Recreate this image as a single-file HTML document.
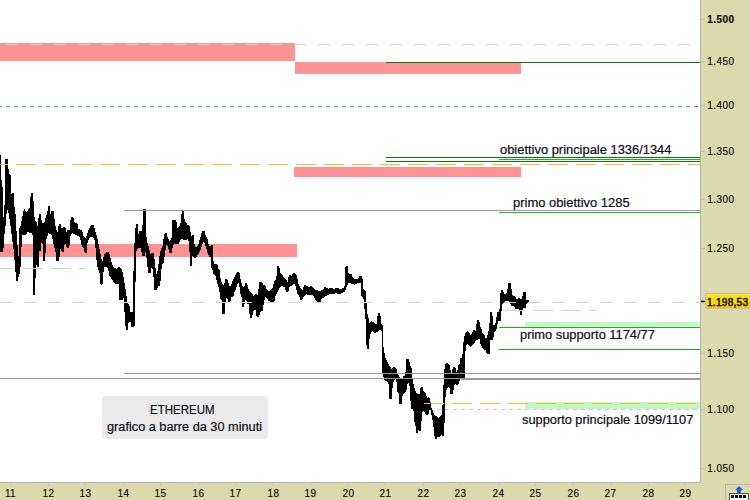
<!DOCTYPE html>
<html><head><meta charset="utf-8"><title>ETHEREUM</title><style>
html,body{margin:0;padding:0;background:#fff;}
body{width:750px;height:500px;position:relative;overflow:hidden;font-family:"Liberation Sans",sans-serif;}
.t{position:absolute;white-space:nowrap;color:#0c0c16;line-height:1;transform-origin:0 0;-webkit-text-stroke:0.2px #0c0c16;}
.ax{position:absolute;white-space:nowrap;color:#0a0a0a;font-size:10px;line-height:1;letter-spacing:0.35px;-webkit-text-stroke:0.15px #0a0a0a;}
</style></head>
<body>
<svg width="750" height="500" viewBox="0 0 750 500" shape-rendering="crispEdges" style="position:absolute;left:0;top:0"><rect width="750" height="500" fill="#fff"/><rect x="0" y="43" width="295" height="18" fill="#FF9292"/><rect x="295" y="62" width="226" height="12" fill="#FF9292"/><rect x="294" y="167" width="227" height="10" fill="#FF9292"/><rect x="0" y="244" width="297" height="13" fill="#FF9292"/><rect x="525" y="322" width="175" height="5" fill="#C3F7C3"/><rect x="525" y="402" width="175" height="7" fill="#C3F7C3"/><path d="M0 155h1v97h-1zM1 180h1v72h-1zM2 187h1v65h-1zM3 217h1v31h-1zM4 205h1v29h-1zM5 159h1v67h-1zM6 159h1v55h-1zM7 159h1v51h-1zM8 169h1v44h-1zM9 174h1v45h-1zM10 175h1v51h-1zM11 194h1v40h-1zM12 193h1v49h-1zM13 193h1v56h-1zM14 207h1v53h-1zM15 214h1v58h-1zM16 231h1v50h-1zM17 245h1v36h-1zM18 256h1v21h-1zM19 228h1v46h-1zM20 226h1v41h-1zM21 221h1v26h-1zM22 216h1v19h-1zM23 211h1v24h-1zM24 209h1v26h-1zM25 211h1v24h-1zM26 212h1v22h-1zM27 211h1v21h-1zM28 209h1v23h-1zM29 208h1v25h-1zM30 197h1v36h-1zM31 193h1v40h-1zM32 193h1v42h-1zM33 201h1v94h-1zM34 217h1v78h-1zM35 221h1v57h-1zM36 222h1v43h-1zM37 226h1v41h-1zM38 218h1v49h-1zM39 214h1v37h-1zM40 214h1v37h-1zM41 220h1v23h-1zM42 223h1v21h-1zM43 223h1v38h-1zM44 222h1v39h-1zM45 218h1v35h-1zM46 215h1v24h-1zM47 211h1v25h-1zM48 206h1v27h-1zM49 206h1v28h-1zM50 214h1v20h-1zM51 211h1v24h-1zM52 211h1v28h-1zM53 211h1v33h-1zM54 219h1v29h-1zM55 226h1v26h-1zM56 230h1v31h-1zM57 232h1v29h-1zM58 226h1v35h-1zM59 224h1v33h-1zM60 224h1v25h-1zM61 228h1v23h-1zM62 228h1v24h-1zM63 227h1v25h-1zM64 227h1v18h-1zM65 228h1v16h-1zM66 232h1v15h-1zM67 230h1v18h-1zM68 230h1v18h-1zM69 230h1v15h-1zM70 220h1v16h-1zM71 217h1v17h-1zM72 217h1v16h-1zM73 218h1v16h-1zM74 222h1v12h-1zM75 223h1v12h-1zM76 223h1v12h-1zM77 224h1v12h-1zM78 229h1v7h-1zM79 229h1v8h-1zM80 230h1v10h-1zM81 230h1v15h-1zM82 232h1v15h-1zM83 236h1v12h-1zM84 237h1v15h-1zM85 238h1v15h-1zM86 236h1v17h-1zM87 233h1v10h-1zM88 230h1v10h-1zM89 228h1v10h-1zM90 226h1v11h-1zM91 225h1v12h-1zM92 225h1v12h-1zM93 225h1v13h-1zM94 228h1v12h-1zM95 232h1v16h-1zM96 235h1v25h-1zM97 239h1v28h-1zM98 244h1v26h-1zM99 249h1v24h-1zM100 254h1v30h-1zM101 259h1v26h-1zM102 261h1v23h-1zM103 257h1v15h-1zM104 254h1v13h-1zM105 253h1v14h-1zM106 252h1v15h-1zM107 252h1v16h-1zM108 252h1v19h-1zM109 254h1v22h-1zM110 258h1v19h-1zM111 262h1v17h-1zM112 265h1v15h-1zM113 267h1v15h-1zM114 268h1v15h-1zM115 268h1v16h-1zM116 269h1v15h-1zM117 268h1v16h-1zM118 267h1v17h-1zM119 267h1v33h-1zM120 268h1v32h-1zM121 269h1v31h-1zM122 272h1v28h-1zM123 277h1v21h-1zM124 283h1v29h-1zM125 289h1v37h-1zM126 296h1v34h-1zM127 302h1v28h-1zM128 304h1v19h-1zM129 306h1v16h-1zM130 312h1v10h-1zM131 312h1v15h-1zM132 312h1v15h-1zM133 271h1v56h-1zM134 243h1v83h-1zM135 228h1v54h-1zM136 224h1v27h-1zM137 224h1v25h-1zM138 234h1v14h-1zM139 231h1v17h-1zM140 231h1v17h-1zM141 231h1v21h-1zM142 225h1v31h-1zM143 209h1v47h-1zM144 209h1v47h-1zM145 209h1v43h-1zM146 237h1v21h-1zM147 243h1v24h-1zM148 246h1v27h-1zM149 250h1v23h-1zM150 254h1v19h-1zM151 253h1v15h-1zM152 253h1v16h-1zM153 253h1v24h-1zM154 259h1v31h-1zM155 268h1v22h-1zM156 274h1v16h-1zM157 271h1v17h-1zM158 264h1v22h-1zM159 256h1v30h-1zM160 251h1v30h-1zM161 248h1v21h-1zM162 246h1v18h-1zM163 239h1v24h-1zM164 234h1v23h-1zM165 233h1v17h-1zM166 233h1v12h-1zM167 237h1v9h-1zM168 239h1v10h-1zM169 241h1v12h-1zM170 240h1v13h-1zM171 238h1v15h-1zM172 220h1v28h-1zM173 220h1v25h-1zM174 220h1v24h-1zM175 220h1v24h-1zM176 222h1v22h-1zM177 228h1v16h-1zM178 227h1v17h-1zM179 226h1v16h-1zM180 223h1v17h-1zM181 214h1v25h-1zM182 211h1v28h-1zM183 211h1v29h-1zM184 219h1v21h-1zM185 222h1v18h-1zM186 223h1v17h-1zM187 225h1v14h-1zM188 225h1v16h-1zM189 226h1v26h-1zM190 232h1v34h-1zM191 236h1v30h-1zM192 235h1v21h-1zM193 235h1v22h-1zM194 244h1v14h-1zM195 247h1v11h-1zM196 247h1v10h-1zM197 246h1v9h-1zM198 244h1v10h-1zM199 240h1v12h-1zM200 237h1v13h-1zM201 233h1v14h-1zM202 231h1v13h-1zM203 231h1v11h-1zM204 231h1v12h-1zM205 235h1v11h-1zM206 237h1v12h-1zM207 239h1v14h-1zM208 244h1v11h-1zM209 246h1v11h-1zM210 246h1v11h-1zM211 245h1v23h-1zM212 245h1v25h-1zM213 261h1v13h-1zM214 264h1v11h-1zM215 264h1v12h-1zM216 264h1v16h-1zM217 265h1v19h-1zM218 269h1v18h-1zM219 270h1v22h-1zM220 278h1v21h-1zM221 282h1v18h-1zM222 284h1v30h-1zM223 285h1v29h-1zM224 283h1v31h-1zM225 279h1v23h-1zM226 279h1v19h-1zM227 280h1v19h-1zM228 283h1v19h-1zM229 286h1v16h-1zM230 286h1v15h-1zM231 284h1v13h-1zM232 281h1v16h-1zM233 279h1v17h-1zM234 277h1v15h-1zM235 275h1v15h-1zM236 273h1v14h-1zM237 272h1v12h-1zM238 272h1v11h-1zM239 273h1v14h-1zM240 279h1v15h-1zM241 283h1v14h-1zM242 286h1v21h-1zM243 287h1v20h-1zM244 286h1v18h-1zM245 283h1v17h-1zM246 283h1v18h-1zM247 285h1v19h-1zM248 289h1v15h-1zM249 291h1v23h-1zM250 292h1v26h-1zM251 293h1v25h-1zM252 294h1v21h-1zM253 296h1v15h-1zM254 295h1v15h-1zM255 294h1v16h-1zM256 294h1v22h-1zM257 295h1v22h-1zM258 289h1v28h-1zM259 282h1v33h-1zM260 282h1v30h-1zM261 282h1v29h-1zM262 283h1v28h-1zM263 285h1v20h-1zM264 285h1v15h-1zM265 286h1v11h-1zM266 289h1v9h-1zM267 290h1v9h-1zM268 291h1v10h-1zM269 291h1v10h-1zM270 290h1v12h-1zM271 289h1v13h-1zM272 288h1v14h-1zM273 284h1v19h-1zM274 281h1v20h-1zM275 280h1v16h-1zM276 276h1v18h-1zM277 266h1v26h-1zM278 266h1v24h-1zM279 268h1v20h-1zM280 273h1v14h-1zM281 274h1v12h-1zM282 275h1v11h-1zM283 277h1v10h-1zM284 278h1v9h-1zM285 279h1v11h-1zM286 280h1v12h-1zM287 282h1v10h-1zM288 277h1v14h-1zM289 275h1v12h-1zM290 275h1v11h-1zM291 276h1v10h-1zM292 274h1v11h-1zM293 273h1v11h-1zM294 273h1v11h-1zM295 274h1v12h-1zM296 275h1v15h-1zM297 279h1v15h-1zM298 284h1v11h-1zM299 286h1v11h-1zM300 288h1v12h-1zM301 289h1v11h-1zM302 290h1v9h-1zM303 287h1v10h-1zM304 285h1v11h-1zM305 285h1v10h-1zM306 286h1v8h-1zM307 286h1v9h-1zM308 287h1v8h-1zM309 287h1v8h-1zM310 286h1v9h-1zM311 286h1v9h-1zM312 287h1v8h-1zM313 288h1v8h-1zM314 289h1v9h-1zM315 290h1v10h-1zM316 290h1v11h-1zM317 290h1v13h-1zM318 291h1v12h-1zM319 291h1v12h-1zM320 291h1v11h-1zM321 290h1v9h-1zM322 290h1v8h-1zM323 289h1v9h-1zM324 287h1v10h-1zM325 287h1v9h-1zM326 288h1v8h-1zM327 288h1v7h-1zM328 289h1v6h-1zM329 288h1v6h-1zM330 288h1v6h-1zM331 288h1v6h-1zM332 288h1v6h-1zM333 289h1v5h-1zM334 289h1v5h-1zM335 288h1v5h-1zM336 288h1v5h-1zM337 288h1v6h-1zM338 288h1v6h-1zM339 289h1v5h-1zM340 289h1v5h-1zM341 289h1v4h-1zM342 288h1v5h-1zM343 288h1v4h-1zM344 286h1v6h-1zM345 267h1v23h-1zM346 266h1v21h-1zM347 266h1v19h-1zM348 273h1v10h-1zM349 274h1v9h-1zM350 274h1v9h-1zM351 274h1v10h-1zM352 277h1v7h-1zM353 278h1v6h-1zM354 279h1v6h-1zM355 279h1v5h-1zM356 279h1v5h-1zM357 279h1v4h-1zM358 278h1v5h-1zM359 276h1v7h-1zM360 276h1v7h-1zM361 276h1v20h-1zM362 279h1v18h-1zM363 289h1v10h-1zM364 290h1v19h-1zM365 291h1v28h-1zM366 303h1v42h-1zM367 314h1v35h-1zM368 318h1v31h-1zM369 323h1v16h-1zM370 322h1v12h-1zM371 321h1v11h-1zM372 322h1v9h-1zM373 322h1v10h-1zM374 323h1v10h-1zM375 324h1v9h-1zM376 324h1v8h-1zM377 316h1v16h-1zM378 313h1v18h-1zM379 313h1v17h-1zM380 316h1v14h-1zM381 324h1v7h-1zM382 325h1v49h-1zM383 347h1v30h-1zM384 353h1v27h-1zM385 358h1v23h-1zM386 360h1v21h-1zM387 362h1v20h-1zM388 364h1v20h-1zM389 366h1v33h-1zM390 367h1v32h-1zM391 369h1v30h-1zM392 368h1v20h-1zM393 367h1v15h-1zM394 367h1v13h-1zM395 368h1v11h-1zM396 369h1v13h-1zM397 373h1v19h-1zM398 375h1v18h-1zM399 377h1v27h-1zM400 378h1v26h-1zM401 379h1v25h-1zM402 378h1v18h-1zM403 376h1v18h-1zM404 376h1v17h-1zM405 372h1v20h-1zM406 359h1v31h-1zM407 359h1v25h-1zM408 359h1v24h-1zM409 362h1v24h-1zM410 366h1v35h-1zM411 368h1v41h-1zM412 379h1v30h-1zM413 384h1v27h-1zM414 388h1v34h-1zM415 391h1v35h-1zM416 393h1v40h-1zM417 394h1v39h-1zM418 394h1v36h-1zM419 394h1v37h-1zM420 388h1v43h-1zM421 387h1v34h-1zM422 387h1v25h-1zM423 391h1v20h-1zM424 392h1v20h-1zM425 393h1v21h-1zM426 396h1v19h-1zM427 398h1v17h-1zM428 397h1v17h-1zM429 398h1v12h-1zM430 402h1v8h-1zM431 408h1v7h-1zM432 410h1v10h-1zM433 413h1v14h-1zM434 415h1v21h-1zM435 416h1v23h-1zM436 416h1v23h-1zM437 417h1v20h-1zM438 418h1v19h-1zM439 417h1v20h-1zM440 416h1v20h-1zM441 415h1v20h-1zM442 405h1v31h-1zM443 385h1v51h-1zM444 369h1v54h-1zM445 364h1v33h-1zM446 363h1v27h-1zM447 363h1v25h-1zM448 364h1v23h-1zM449 365h1v23h-1zM450 370h1v24h-1zM451 373h1v21h-1zM452 369h1v25h-1zM453 367h1v23h-1zM454 367h1v18h-1zM455 368h1v16h-1zM456 372h1v13h-1zM457 370h1v15h-1zM458 365h1v19h-1zM459 364h1v17h-1zM460 358h1v21h-1zM461 358h1v20h-1zM462 354h1v24h-1zM463 342h1v36h-1zM464 336h1v42h-1zM465 333h1v18h-1zM466 332h1v13h-1zM467 331h1v13h-1zM468 332h1v13h-1zM469 333h1v13h-1zM470 335h1v12h-1zM471 334h1v12h-1zM472 332h1v13h-1zM473 330h1v14h-1zM474 330h1v13h-1zM475 331h1v10h-1zM476 324h1v16h-1zM477 320h1v20h-1zM478 320h1v19h-1zM479 322h1v17h-1zM480 327h1v17h-1zM481 329h1v17h-1zM482 333h1v15h-1zM483 334h1v15h-1zM484 335h1v15h-1zM485 338h1v12h-1zM486 338h1v15h-1zM487 335h1v19h-1zM488 331h1v23h-1zM489 323h1v31h-1zM490 312h1v28h-1zM491 312h1v28h-1zM492 316h1v24h-1zM493 325h1v12h-1zM494 325h1v7h-1zM495 323h1v8h-1zM496 317h1v12h-1zM497 312h1v12h-1zM498 312h1v9h-1zM499 309h1v12h-1zM500 293h1v28h-1zM501 290h1v21h-1zM502 290h1v14h-1zM503 292h1v11h-1zM504 294h1v8h-1zM505 294h1v7h-1zM506 293h1v8h-1zM507 289h1v12h-1zM508 283h1v18h-1zM509 283h1v19h-1zM510 283h1v21h-1zM511 289h1v17h-1zM512 295h1v11h-1zM513 296h1v10h-1zM514 296h1v11h-1zM515 297h1v12h-1zM516 299h1v10h-1zM517 299h1v10h-1zM518 298h1v11h-1zM519 298h1v12h-1zM520 299h1v16h-1zM521 299h1v16h-1zM522 296h1v15h-1zM523 292h1v16h-1zM524 292h1v16h-1zM525 292h1v16h-1zM526 300h1v4h-1zM527 300h1v3h-1zM528 300h1v3h-1z" fill="#000"/><path d="M6 44h12v1h-12zM30 44h12v1h-12zM54 44h12v1h-12zM78 44h12v1h-12zM102 44h12v1h-12zM126 44h12v1h-12zM150 44h12v1h-12zM174 44h12v1h-12zM198 44h12v1h-12zM222 44h12v1h-12zM246 44h12v1h-12zM270 44h12v1h-12zM294 44h12v1h-12zM318 44h12v1h-12zM342 44h12v1h-12zM366 44h12v1h-12zM390 44h12v1h-12zM414 44h12v1h-12zM438 44h12v1h-12zM462 44h12v1h-12zM486 44h12v1h-12zM510 44h12v1h-12zM534 44h12v1h-12zM558 44h12v1h-12zM582 44h12v1h-12zM606 44h12v1h-12zM630 44h12v1h-12zM654 44h12v1h-12zM678 44h12v1h-12z" fill="#D2D2D2"/><rect x="386" y="62" width="314" height="1" fill="#008000"/><path d="M0 106h2v1h-2zM6 106h4v1h-4zM14 106h4v1h-4zM22 106h4v1h-4zM30 106h4v1h-4zM38 106h4v1h-4zM46 106h4v1h-4zM54 106h4v1h-4zM62 106h4v1h-4zM70 106h4v1h-4zM78 106h4v1h-4zM86 106h4v1h-4zM94 106h4v1h-4zM102 106h4v1h-4zM110 106h4v1h-4zM118 106h4v1h-4zM126 106h4v1h-4zM134 106h4v1h-4zM142 106h4v1h-4zM150 106h4v1h-4zM158 106h4v1h-4zM166 106h4v1h-4zM174 106h4v1h-4zM182 106h4v1h-4zM190 106h4v1h-4zM198 106h4v1h-4zM206 106h4v1h-4zM214 106h4v1h-4zM222 106h4v1h-4zM230 106h4v1h-4zM238 106h4v1h-4zM246 106h4v1h-4zM254 106h4v1h-4zM262 106h4v1h-4zM270 106h4v1h-4zM278 106h4v1h-4zM286 106h4v1h-4zM294 106h4v1h-4zM302 106h4v1h-4zM310 106h4v1h-4zM318 106h4v1h-4zM326 106h4v1h-4zM334 106h4v1h-4zM342 106h4v1h-4zM350 106h4v1h-4zM358 106h4v1h-4zM366 106h4v1h-4zM374 106h4v1h-4zM382 106h4v1h-4zM390 106h4v1h-4zM398 106h4v1h-4zM406 106h4v1h-4zM414 106h4v1h-4zM422 106h4v1h-4zM430 106h4v1h-4zM438 106h4v1h-4zM446 106h4v1h-4zM454 106h4v1h-4zM462 106h4v1h-4zM470 106h4v1h-4zM478 106h4v1h-4zM486 106h4v1h-4zM494 106h4v1h-4zM502 106h4v1h-4zM510 106h4v1h-4zM518 106h4v1h-4zM526 106h4v1h-4zM534 106h4v1h-4zM542 106h4v1h-4zM550 106h4v1h-4zM558 106h4v1h-4zM566 106h4v1h-4zM574 106h4v1h-4zM582 106h4v1h-4zM590 106h4v1h-4zM598 106h4v1h-4zM606 106h4v1h-4zM614 106h4v1h-4zM622 106h4v1h-4zM630 106h4v1h-4zM638 106h4v1h-4zM646 106h4v1h-4zM654 106h4v1h-4zM662 106h4v1h-4zM670 106h4v1h-4zM678 106h4v1h-4zM686 106h4v1h-4zM694 106h4v1h-4z" fill="#4C8AF0"/><rect x="386" y="157" width="314" height="1" fill="#008000"/><rect x="386" y="161" width="314" height="1" fill="#008000"/><rect x="499" y="159" width="201" height="1" fill="#2CA62C"/><path d="M0 164h8v1h-8zM16 164h20v1h-20zM44 164h20v1h-20zM72 164h20v1h-20zM100 164h20v1h-20zM128 164h20v1h-20zM156 164h20v1h-20zM184 164h20v1h-20zM212 164h20v1h-20zM240 164h20v1h-20zM268 164h20v1h-20zM296 164h20v1h-20zM324 164h20v1h-20zM352 164h20v1h-20zM380 164h20v1h-20zM408 164h20v1h-20zM436 164h20v1h-20zM464 164h20v1h-20zM492 164h20v1h-20zM520 164h20v1h-20zM548 164h20v1h-20zM576 164h20v1h-20zM604 164h20v1h-20zM632 164h20v1h-20zM660 164h20v1h-20zM688 164h12v1h-12z" fill="#FFB62E"/><rect x="124" y="210" width="576" height="1" fill="#9A9A9A"/><rect x="499" y="212" width="201" height="1" fill="#2DB52D"/><path d="M0 268h15v1h-15zM23 268h20v1h-20zM51 268h20v1h-20zM79 268h6v1h-6z" fill="#D2D2D2"/><path d="M0 302h12v1h-12zM24 302h12v1h-12zM48 302h12v1h-12zM72 302h12v1h-12zM96 302h12v1h-12zM120 302h12v1h-12zM144 302h12v1h-12zM168 302h12v1h-12zM192 302h12v1h-12zM216 302h12v1h-12zM240 302h12v1h-12zM264 302h12v1h-12zM288 302h12v1h-12zM312 302h12v1h-12zM336 302h12v1h-12zM360 302h12v1h-12zM384 302h12v1h-12zM408 302h12v1h-12zM432 302h12v1h-12zM456 302h12v1h-12zM480 302h12v1h-12zM504 302h12v1h-12zM528 302h12v1h-12zM552 302h12v1h-12zM576 302h12v1h-12zM600 302h12v1h-12zM624 302h12v1h-12zM648 302h12v1h-12zM672 302h12v1h-12zM696 302h4v1h-4z" fill="#D2D2D2"/><path d="M505 310h20v1h-20zM533 310h20v1h-20zM561 310h20v1h-20zM589 310h7v1h-7z" fill="#D2D2D2"/><rect x="499" y="327" width="201" height="1" fill="#22AA22"/><rect x="499" y="349" width="201" height="1" fill="#22AA22"/><rect x="124" y="373" width="576" height="1" fill="#9A9A9A"/><rect x="0" y="378" width="700" height="1" fill="#9A9A9A"/><rect x="461" y="379" width="239" height="1" fill="#9A9A9A"/><path d="M424 403h20v1h-20zM452 403h20v1h-20zM480 403h20v1h-20zM508 403h20v1h-20zM536 403h20v1h-20zM564 403h20v1h-20zM592 403h20v1h-20zM620 403h20v1h-20zM648 403h20v1h-20zM676 403h20v1h-20z" fill="#FFB62E"/><path d="M437 409h4v1h-4zM445 409h4v1h-4zM453 409h4v1h-4zM461 409h4v1h-4zM469 409h4v1h-4zM477 409h4v1h-4zM485 409h4v1h-4zM493 409h4v1h-4zM501 409h4v1h-4zM509 409h4v1h-4zM517 409h4v1h-4zM525 409h4v1h-4zM533 409h4v1h-4zM541 409h4v1h-4zM549 409h4v1h-4zM557 409h4v1h-4zM565 409h4v1h-4zM573 409h4v1h-4zM581 409h4v1h-4zM589 409h4v1h-4zM597 409h4v1h-4zM605 409h4v1h-4zM613 409h4v1h-4zM621 409h4v1h-4zM629 409h4v1h-4zM637 409h4v1h-4zM645 409h4v1h-4zM653 409h4v1h-4zM661 409h4v1h-4zM669 409h4v1h-4zM677 409h4v1h-4zM685 409h4v1h-4zM693 409h4v1h-4z" fill="#C8C8C8"/><rect x="700" y="0" width="50" height="500" fill="#DCDAAD"/><rect x="0" y="482" width="750" height="18" fill="#DCDAAD"/><rect x="700" y="0" width="1" height="483" fill="#B4B4B8"/><rect x="0" y="482" width="701" height="1" fill="#B4B4B8"/><rect x="701" y="19" width="4" height="1" fill="#B9B9C4"/><rect x="701" y="61" width="4" height="1" fill="#B9B9C4"/><rect x="701" y="105" width="4" height="1" fill="#B9B9C4"/><rect x="701" y="151" width="4" height="1" fill="#B9B9C4"/><rect x="701" y="199" width="4" height="1" fill="#B9B9C4"/><rect x="701" y="248" width="4" height="1" fill="#B9B9C4"/><rect x="701" y="353" width="4" height="1" fill="#B9B9C4"/><rect x="701" y="409" width="4" height="1" fill="#B9B9C4"/><rect x="701" y="468" width="4" height="1" fill="#B9B9C4"/><rect x="10" y="483" width="1" height="3" fill="#C3C3BC"/><rect x="48" y="483" width="1" height="3" fill="#C3C3BC"/><rect x="85" y="483" width="1" height="3" fill="#C3C3BC"/><rect x="123" y="483" width="1" height="3" fill="#C3C3BC"/><rect x="160" y="483" width="1" height="3" fill="#C3C3BC"/><rect x="198" y="483" width="1" height="3" fill="#C3C3BC"/><rect x="235" y="483" width="1" height="3" fill="#C3C3BC"/><rect x="273" y="483" width="1" height="3" fill="#C3C3BC"/><rect x="310" y="483" width="1" height="3" fill="#C3C3BC"/><rect x="348" y="483" width="1" height="3" fill="#C3C3BC"/><rect x="385" y="483" width="1" height="3" fill="#C3C3BC"/><rect x="423" y="483" width="1" height="3" fill="#C3C3BC"/><rect x="460" y="483" width="1" height="3" fill="#C3C3BC"/><rect x="498" y="483" width="1" height="3" fill="#C3C3BC"/><rect x="535" y="483" width="1" height="3" fill="#C3C3BC"/><rect x="573" y="483" width="1" height="3" fill="#C3C3BC"/><rect x="610" y="483" width="1" height="3" fill="#C3C3BC"/><rect x="648" y="483" width="1" height="3" fill="#C3C3BC"/><rect x="685" y="483" width="1" height="3" fill="#C3C3BC"/><defs><linearGradient id="yg" x1="0" y1="0" x2="0" y2="1"><stop offset="0" stop-color="#FFE81C"/><stop offset="1" stop-color="#F9C402"/></linearGradient></defs><rect x="705" y="293" width="45" height="16" fill="#BEBEC6"/><rect x="706" y="294" width="44" height="14" fill="url(#yg)"/><rect x="701" y="300.7" width="4" height="1.5" fill="#000" shape-rendering="geometricPrecision"/><rect x="725" y="484" width="25" height="16" fill="#B4B4C4"/><rect x="726" y="485" width="24" height="15" fill="#DCDAAD"/><path d="M739 486 L743 490 L741 490 L741 493 L737 493 L737 490 L735 490 Z" fill="#1F62D0" shape-rendering="geometricPrecision"/><rect x="729" y="493" width="20" height="7" fill="#555"/><rect x="730" y="494" width="18" height="6" fill="#fff"/><rect x="731" y="495" width="3" height="3" fill="#111"/><rect x="735" y="495" width="3" height="3" fill="#111"/><rect x="739" y="495" width="3" height="3" fill="#111"/><rect x="743" y="495" width="3" height="3" fill="#111"/><rect x="102" y="396" width="166" height="43" rx="3" ry="3" fill="#EBEBEB" shape-rendering="geometricPrecision"/></svg>
<div class="ax" style="left:707.2px;top:15.4px;letter-spacing:0.45px;font-weight:bold">1.500</div><div class="ax" style="left:707.2px;top:57.4px;letter-spacing:0.45px;font-weight:normal">1.450</div><div class="ax" style="left:707.2px;top:101.4px;letter-spacing:0.45px;font-weight:normal">1.400</div><div class="ax" style="left:707.2px;top:147.4px;letter-spacing:0.45px;font-weight:normal">1.350</div><div class="ax" style="left:707.2px;top:195.4px;letter-spacing:0.45px;font-weight:normal">1.300</div><div class="ax" style="left:707.2px;top:244.4px;letter-spacing:0.45px;font-weight:normal">1.250</div><div class="ax" style="left:707.2px;top:349.4px;letter-spacing:0.45px;font-weight:normal">1.150</div><div class="ax" style="left:707.2px;top:405.4px;letter-spacing:0.45px;font-weight:normal">1.100</div><div class="ax" style="left:707.2px;top:464.4px;letter-spacing:0.45px;font-weight:normal">1.050</div><div class="ax" style="left:707px;top:297.5px;letter-spacing:0.3px;-webkit-text-stroke:0.45px #0a0a0a">1.198,53</div><div class="ax" style="left:-9.5px;width:40px;text-align:center;top:488.7px">11</div><div class="ax" style="left:28.5px;width:40px;text-align:center;top:488.7px">12</div><div class="ax" style="left:65.5px;width:40px;text-align:center;top:488.7px">13</div><div class="ax" style="left:103.5px;width:40px;text-align:center;top:488.7px">14</div><div class="ax" style="left:140.5px;width:40px;text-align:center;top:488.7px">15</div><div class="ax" style="left:178.5px;width:40px;text-align:center;top:488.7px">16</div><div class="ax" style="left:215.5px;width:40px;text-align:center;top:488.7px">17</div><div class="ax" style="left:253.5px;width:40px;text-align:center;top:488.7px">18</div><div class="ax" style="left:290.5px;width:40px;text-align:center;top:488.7px">19</div><div class="ax" style="left:328.5px;width:40px;text-align:center;top:488.7px">20</div><div class="ax" style="left:365.5px;width:40px;text-align:center;top:488.7px">21</div><div class="ax" style="left:403.5px;width:40px;text-align:center;top:488.7px">22</div><div class="ax" style="left:440.5px;width:40px;text-align:center;top:488.7px">23</div><div class="ax" style="left:478.5px;width:40px;text-align:center;top:488.7px">24</div><div class="ax" style="left:515.5px;width:40px;text-align:center;top:488.7px">25</div><div class="ax" style="left:553.5px;width:40px;text-align:center;top:488.7px">26</div><div class="ax" style="left:590.5px;width:40px;text-align:center;top:488.7px">27</div><div class="ax" style="left:628.5px;width:40px;text-align:center;top:488.7px">28</div><div class="ax" style="left:665.5px;width:40px;text-align:center;top:488.7px">29</div><div class="t" id="L0" style="left:500.20px;top:144.25px;font-size:12.5px;transform:scaleX(1.0324)">obiettivo principale 1336/1344</div><div class="t" id="L1" style="left:513.00px;top:197.25px;font-size:12.5px;transform:scaleX(1.0357)">primo obiettivo 1285</div><div class="t" id="L2" style="left:520.00px;top:329.25px;font-size:12.5px;transform:scaleX(1.0289)">primo supporto 1174/77</div><div class="t" id="L3" style="left:521.60px;top:414.25px;font-size:12.5px;transform:scaleX(1.0241)">supporto principale 1099/1107</div><div class="t" id="L4" style="left:150.10px;top:404.25px;font-size:12.5px;transform:scaleX(0.9222)">ETHEREUM</div><div class="t" id="L5" style="left:106.70px;top:420.95px;font-size:12.5px;transform:scaleX(1.0186)">grafico a barre da 30 minuti</div>
</body></html>
